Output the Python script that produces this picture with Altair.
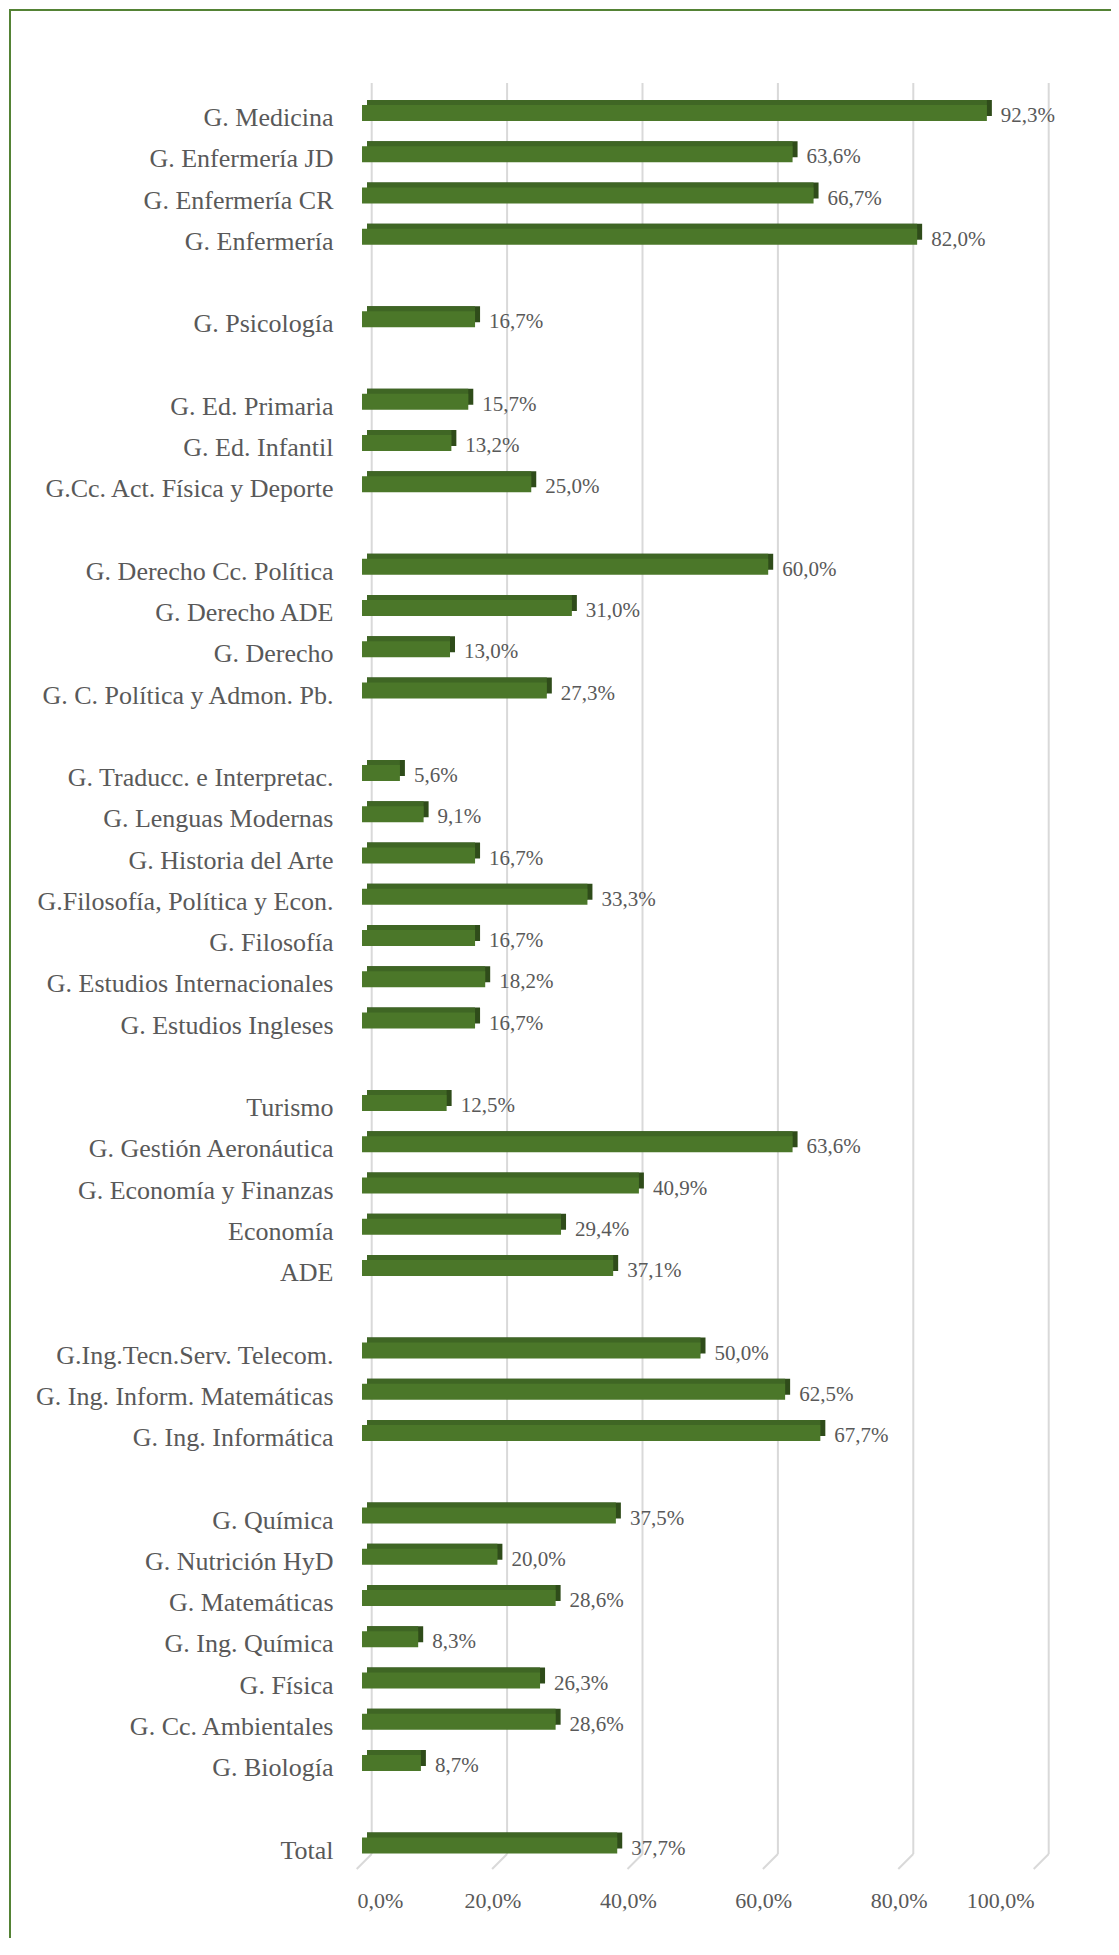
import altair as alt
import pandas as pd

# ---- data ----
group_1 = ["G. Medicina", "G. Enfermería JD", "G. Enfermería CR", "G. Enfermería"]
values_1 = [92.3, 63.6, 66.7, 82.0]
group_2 = ["G. Psicología"]
values_2 = [16.7]
group_3 = ["G. Ed. Primaria", "G. Ed. Infantil", "G.Cc. Act. Física y Deporte"]
values_3 = [15.7, 13.2, 25.0]
group_4 = ["G. Derecho Cc. Política", "G. Derecho ADE", "G. Derecho", "G. C. Política y Admon. Pb."]
values_4 = [60.0, 31.0, 13.0, 27.3]
group_5 = ["G. Traducc. e Interpretac.", "G. Lenguas Modernas", "G. Historia del Arte",
           "G.Filosofía, Política y Econ.", "G. Filosofía", "G. Estudios Internacionales",
           "G. Estudios Ingleses"]
values_5 = [5.6, 9.1, 16.7, 33.3, 16.7, 18.2, 16.7]
group_6 = ["Turismo", "G. Gestión Aeronáutica", "G. Economía y Finanzas", "Economía", "ADE"]
values_6 = [12.5, 63.6, 40.9, 29.4, 37.1]
group_7 = ["G.Ing.Tecn.Serv. Telecom.", "G. Ing. Inform. Matemáticas", "G. Ing. Informática"]
values_7 = [50.0, 62.5, 67.7]
group_8 = ["G. Química", "G. Nutrición HyD", "G. Matemáticas", "G. Ing. Química", "G. Física",
           "G. Cc. Ambientales", "G. Biología"]
values_8 = [37.5, 20.0, 28.6, 8.3, 26.3, 28.6, 8.7]
group_9 = ["Total"]
values_9 = [37.7]

tick_values = [0, 20, 40, 60, 80, 100]

groups = [group_1, group_2, group_3, group_4, group_5, group_6, group_7, group_8, group_9]
group_values = [values_1, values_2, values_3, values_4, values_5, values_6, values_7, values_8, values_9]

domain = []
rows = []
for i, (g, v) in enumerate(zip(groups, group_values)):
    if i > 0:
        domain.append(" " * i)  # empty spacer row between groups
    domain.extend(g)
    for c, val in zip(g, v):
        rows.append({"category": c, "value": val, "zero": 0})
df = pd.DataFrame(rows)
df_ticks = pd.DataFrame({"tick": tick_values})
df_one = pd.DataFrame({"a": [0]})

# ---- layout ----
W = 677
STEP = 41.25
H = STEP * len(domain)
PAD_L, PAD_T = 354, 84.4
PAD_R = 1103 - PAD_L - W
PAD_B = 1930 - PAD_T - H

FONT = "Liberation Serif"
TEXT = "#595959"
FRONT = "#4B7729"
TOP = "#3F6624"
SIDE = "#2F4C1A"
GRID = "#D9D9D9"

xscale = alt.Scale(domain=[0, 100], nice=False, zero=True)
xaxis = alt.Axis(values=tick_values, title=None, domain=False, ticks=False, tickSize=0,
                 grid=False, labelExpr="replace(format(datum.value, '.1f'), '.', ',') + '%'",
                 labelPadding=41.5, labelBaseline="alphabetic", labelOffset=-5,
                 labelFont=FONT, labelFontSize=22, labelColor=TEXT)
yscale = alt.Scale(domain=domain, paddingInner=0, paddingOuter=0)
yaxis = alt.Axis(title=None, domain=False, ticks=False, tickSize=0, labelPadding=29,
                 labelFont=FONT, labelFontSize=26, labelColor=TEXT,
                 labelBaseline="alphabetic", labelOffset=13, labelLimit=500)

Y = alt.Y("category:N", scale=yscale, axis=yaxis, sort=domain)

border = alt.Chart(df_one).mark_rect(fillOpacity=0, stroke="#548235", strokeWidth=2).encode(
    x=alt.value(2 - PAD_L), x2=alt.value(W + 400),
    y=alt.value(2 - PAD_T), y2=alt.value(H + 400))

grid_v = alt.Chart(df_ticks).mark_rule(color=GRID, strokeWidth=2, xOffset=9.7).encode(
    x=alt.X("tick:Q", scale=xscale, axis=xaxis),
    y=alt.value(83 - 8 - PAD_T), y2=alt.value(1854 - 8 - PAD_T))

grid_d = alt.Chart(df_ticks).mark_rule(color=GRID, strokeWidth=2, xOffset=9.7, x2Offset=-5.3).encode(
    x=alt.X("tick:Q", scale=xscale, axis=xaxis), x2="tick:Q",
    y=alt.value(1854 - 8 - PAD_T), y2=alt.value(1869 - 8 - PAD_T))

base = alt.Chart(df)

side = base.mark_bar(color=SIDE, size=16, xOffset=5, x2Offset=5, yOffset=-5).encode(
    x=alt.X("zero:Q", scale=xscale, axis=xaxis), x2="value:Q", y=Y)

top = base.mark_bar(color=TOP, size=16, xOffset=5, x2Offset=0, yOffset=-5).encode(
    x=alt.X("zero:Q", scale=xscale, axis=xaxis), x2="value:Q", y=Y)

front = base.mark_bar(color=FRONT, size=16).encode(
    x=alt.X("zero:Q", scale=xscale, axis=xaxis), x2="value:Q", y=Y)

labels = base.transform_calculate(
    label="replace(format(datum.value, '.1f'), '.', ',') + '%'"
).mark_text(align="left", baseline="alphabetic", dx=14, dy=9, font=FONT, fontSize=21,
            color=TEXT).encode(
    x=alt.X("value:Q", scale=xscale, axis=xaxis), y=Y, text="label:N")

chart = alt.layer(border, grid_v, grid_d, side, top, front, labels).properties(
    width=W, height=H,
    autosize=alt.AutoSizeParams(type="none"),
    padding={"left": PAD_L, "top": PAD_T, "right": PAD_R, "bottom": PAD_B},
    background="white",
).configure_view(stroke=None)

chart.save("out.html", embed_options={"renderer": "svg", "actions": False})
